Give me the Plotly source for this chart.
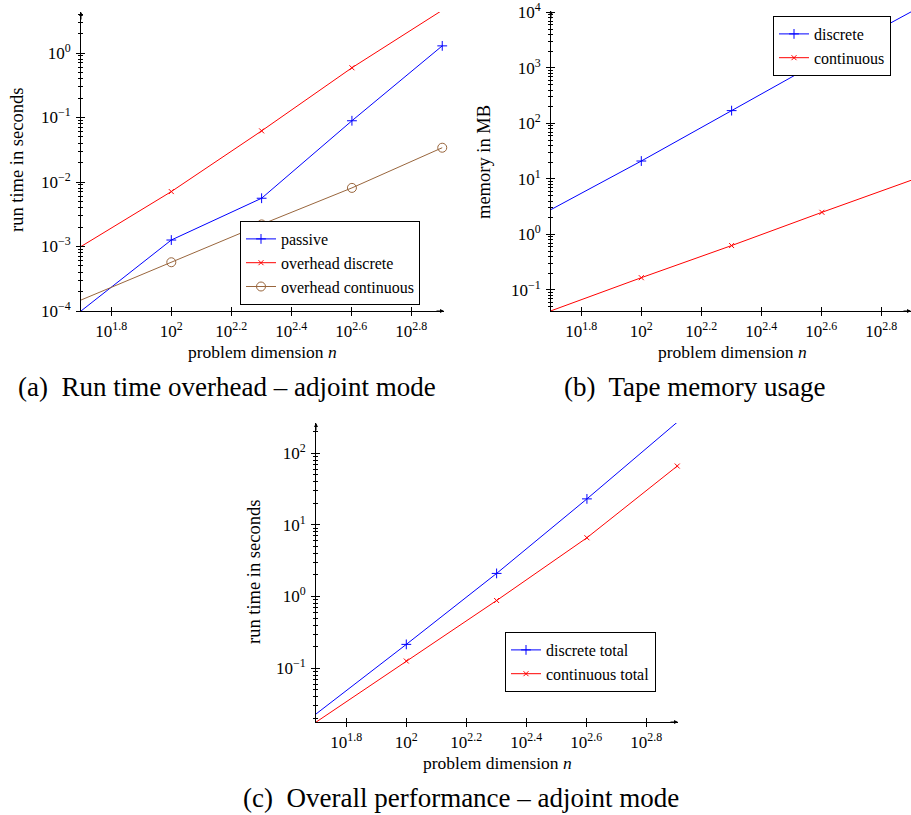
import numpy as np
import plotly.graph_objects as go

# ---------------- data ----------------
n = [50, 100, 200, 400, 800]

# (a) run time overhead - adjoint mode
passive = [1.0e-4, 1.26e-3, 5.6e-3, 0.089, 1.29]
overhead_discrete = [1.0e-3, 7.1e-3, 0.062, 0.59, 4.6]
overhead_continuous = [1.48e-4, 5.7e-4, 2.2e-3, 8.1e-3, 0.034]

# (b) tape memory usage
mem_discrete = [2.8, 21, 170, 1380, 10500]
mem_continuous = [0.042, 0.166, 0.63, 2.5, 9.6]

# (c) overall performance
total_discrete = [0.023, 0.215, 2.1, 23, 270]
total_continuous = [0.0177, 0.126, 0.88, 6.6, 66]

x_tick_exps = [1.8, 2.0, 2.2, 2.4, 2.6, 2.8]
x_tick_text = ["10<sup>1.8</sup>", "10<sup>2</sup>", "10<sup>2.2</sup>",
               "10<sup>2.4</sup>", "10<sup>2.6</sup>", "10<sup>2.8</sup>"]

captions = ["(a)  Run time overhead – adjoint mode",
            "(b)  Tape memory usage",
            "(c)  Overall performance – adjoint mode"]
y_titles = ["run time in seconds", "memory in MB", "run time in seconds"]
x_title = "problem dimension <i>n</i>"

# ---------------- layout geometry ----------------
W, H = 911, 815
FONT = "Liberation Serif"
BLUE, RED, BROWN = "#0000ff", "#ff0000", "#99663d"

def fx(px):
    return px / W

def fy(py):
    return 1 - py / H

panels = [
    dict(l=81, r=444, t=12, b=311, xr=[np.log10(50), np.log10(50) + 363 / 300],
         yr=[-4, -4 + 299 / 64.5], yexp=[-4, -3, -2, -1, 0]),
    dict(l=551, r=911, t=11, b=311, xr=[np.log10(50), np.log10(50) + 360 / 300],
         yr=[-1.38, -1.38 + 300 / 55.5], yexp=[-1, 0, 1, 2, 3, 4]),
    dict(l=316, r=678, t=423, b=722, xr=[np.log10(50), np.log10(50) + 362 / 300],
         yr=[-1.75, -1.75 + 299 / 71.7], yexp=[-1, 0, 1, 2]),
]

fig = go.Figure()

def add(i, y, name, color, symbol, size, legend):
    fig.add_trace(go.Scatter(
        x=n, y=y, name=name, mode="lines+markers",
        line=dict(color=color, width=1),
        marker=dict(symbol=symbol, size=size, color=color,
                    line=dict(color=color, width=1)),
        xaxis="x" if i == 1 else f"x{i}", yaxis="y" if i == 1 else f"y{i}",
        legend=legend, cliponaxis=False,
    ))

add(1, passive, "passive", BLUE, "cross-thin", 7, "legend")
add(1, overhead_discrete, "overhead discrete", RED, "x-thin", 5, "legend")
add(1, overhead_continuous, "overhead continuous", BROWN, "circle-open", 9, "legend")
add(2, mem_discrete, "discrete", BLUE, "cross-thin", 7, "legend2")
add(2, mem_continuous, "continuous", RED, "x-thin", 5, "legend2")
add(3, total_discrete, "discrete total", BLUE, "cross-thin", 7, "legend3")
add(3, total_continuous, "continuous total", RED, "x-thin", 5, "legend3")

layout = dict(
    width=W, height=H, margin=dict(l=0, r=0, t=0, b=0, autoexpand=False),
    paper_bgcolor="white", plot_bgcolor="white",
    font=dict(family=FONT, size=16, color="black"),
    showlegend=True,
)

annotations = []
for k, p in enumerate(panels):
    i = k + 1
    sx = "" if i == 1 else str(i)
    ox = str(i + 3)
    xdom = [fx(p["l"]), fx(p["r"])]
    ydom = [fy(p["b"]), fy(p["t"])]
    minor_vals = [m * 10.0 ** e for e in range(int(np.floor(p["yr"][0])) - 1, int(np.ceil(p["yr"][1])) + 1)
                  for m in range(2, 10)]
    ytv = [10.0 ** e for e in p["yexp"]]
    ytt = [f"10<sup>{e if e >= 0 else '−' + str(-e)}</sup>" for e in p["yexp"]]
    xtv = [10.0 ** e for e in x_tick_exps]
    common_x = dict(type="log", range=p["xr"], domain=xdom, tickvals=xtv,
                    showgrid=False, zeroline=False, tickcolor="black",
                    ticklen=4, tickwidth=1, automargin=False)
    common_y = dict(type="log", range=p["yr"], domain=ydom, tickvals=ytv,
                    showgrid=False, zeroline=False, tickcolor="black",
                    ticklen=4, tickwidth=1, automargin=False,
                    minor=dict(tickvals=minor_vals, ticklen=2, tickcolor="black",
                               ticks="outside", showgrid=False))
    layout[f"xaxis{sx}"] = dict(**common_x, anchor=f"y{sx}", ticks="outside",
                                ticktext=x_tick_text, showline=True,
                                linecolor="black", linewidth=1,
                                tickfont=dict(size=17), ticklabelstandoff=1)
    layout[f"yaxis{sx}"] = dict(**common_y, anchor=f"x{sx}", ticks="outside",
                                ticktext=ytt, showline=True,
                                linecolor="black", linewidth=1,
                                tickfont=dict(size=17), ticklabelstandoff=2)
    cy = dict(common_y)
    cy["minor"] = dict(tickvals=minor_vals, ticklen=2, tickcolor="black",
                       ticks="inside", showgrid=False)
    layout[f"xaxis{ox}"] = dict(**common_x, overlaying=f"x{sx}", anchor=f"y{sx}",
                                side="bottom", ticks="inside",
                                showticklabels=False, showline=False)
    layout[f"yaxis{ox}"] = dict(**cy, overlaying=f"y{sx}", anchor=f"x{sx}",
                                side="left", ticks="inside",
                                showticklabels=False, showline=False)
    fig.add_trace(go.Scatter(x=[], y=[], xaxis=f"x{ox}", yaxis=f"y{ox}",
                             showlegend=False, hoverinfo="skip"))
    annotations.append(dict(xref=f"x{sx} domain", yref=f"y{sx} domain", x=1, y=0,
                            ax=-9, ay=0, axref="pixel", ayref="pixel", text="",
                            showarrow=True, arrowhead=2, arrowsize=0.8,
                            arrowwidth=1, arrowcolor="black"))
    annotations.append(dict(xref=f"x{sx} domain", yref=f"y{sx} domain", x=0, y=1,
                            ax=0, ay=9, axref="pixel", ayref="pixel", text="",
                            showarrow=True, arrowhead=2, arrowsize=0.8,
                            arrowwidth=1, arrowcolor="black"))

title_pos = [
    dict(xt=(262, 352), yt=(17, 160), cap=(227, 387)),
    dict(xt=(732, 352), yt=(484, 162), cap=(695, 387)),
    dict(xt=(497, 763), yt=(254, 572), cap=(461, 798)),
]
for k, tp in enumerate(title_pos):
    annotations.append(dict(xref="paper", yref="paper", x=fx(tp["xt"][0]), y=fy(tp["xt"][1]),
                            text=x_title, showarrow=False, font=dict(size=17.5),
                            xanchor="center", yanchor="middle"))
    annotations.append(dict(xref="paper", yref="paper", x=fx(tp["yt"][0]), y=fy(tp["yt"][1]),
                            text=y_titles[k], showarrow=False, font=dict(size=18.5),
                            textangle=-90, xanchor="center", yanchor="middle"))
    annotations.append(dict(xref="paper", yref="paper", x=fx(tp["cap"][0]), y=fy(tp["cap"][1]),
                            text=captions[k], showarrow=False, font=dict(size=27),
                            xanchor="center", yanchor="middle"))

layout["annotations"] = annotations

leg_common = dict(bordercolor="black", borderwidth=1, bgcolor="white",
                  font=dict(size=16), xanchor="left", yanchor="top",
                  itemwidth=30, tracegroupgap=0)
layout["legend"] = dict(**leg_common, x=fx(240), y=fy(221))
layout["legend2"] = dict(**leg_common, x=fx(773), y=fy(16))
layout["legend3"] = dict(**leg_common, x=fx(505), y=fy(632))

fig.update_layout(**layout)
fig.write_html("out.html", config={"displayModeBar": False},
               post_script="document.body.style.margin='0px';document.body.style.overflow='hidden';")
